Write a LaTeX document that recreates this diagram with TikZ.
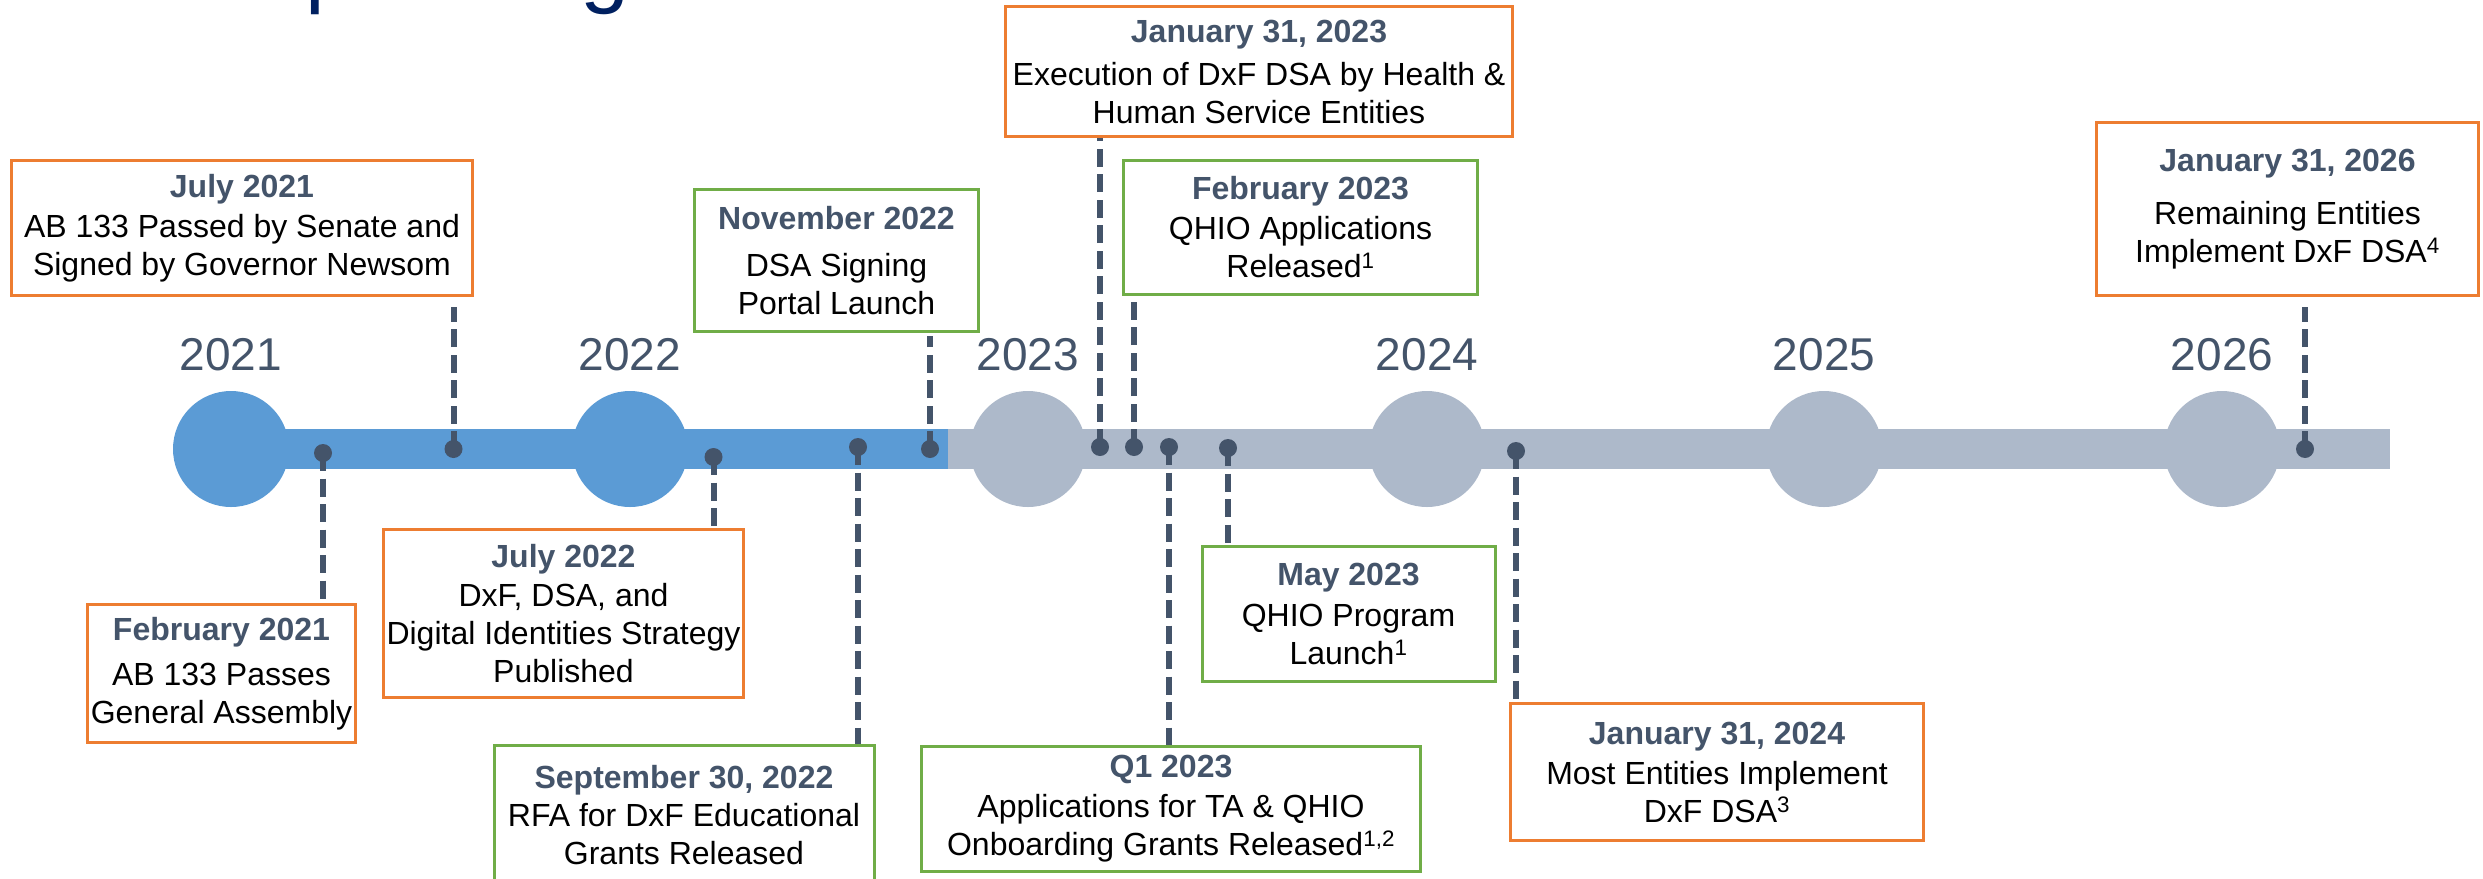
\documentclass[tikz,border=0pt]{standalone}
\usepackage{fontspec}
\setmainfont{Liberation Sans}
\definecolor{blueC}{HTML}{5B9BD5}
\definecolor{grayC}{HTML}{ADB9CA}
\definecolor{slate}{HTML}{44546A}
\definecolor{orangeC}{HTML}{ED7D31}
\definecolor{greenC}{HTML}{70AD47}
\definecolor{navy}{HTML}{002060}
\newcommand\evdate[1]{\textbf{\textcolor{slate}{#1}}}
\begin{document}
\begin{tikzpicture}[x=1pt,y=-1pt,
 evbox/.style={draw, line width=3pt, fill=white, inner sep=0pt, align=center, font=\fontsize{32}{38}\selectfont, text=black},
 obox/.style={evbox, draw=orangeC},
 gbox/.style={evbox, draw=greenC},
 evdot/.style={circle, fill=slate, inner sep=0pt, minimum size=18pt},
 conn/.style={draw=slate, line width=6pt, dash pattern=on 18pt off 7.5pt},
 yearcirc/.style={circle, inner sep=0pt, minimum size=116pt},
 yearlbl/.style={anchor=base, text=slate, font=\fontsize{46}{50}\selectfont, inner sep=0pt},
 titlech/.style={anchor=base, text=navy, font=\fontsize{88}{90}\selectfont, inner sep=0pt}
]
\useasboundingbox (0,0) rectangle (2483,878);
\clip (0,0) rectangle (2483,878);

% title fragments
\node[titlech, anchor=base west] (tp) at (305,-4) {p};
\node[titlech] (tg) at (605,-4) {g};

% bars
\fill[grayC] (948,429) rectangle (2390,469);
\fill[blueC] (231,429) rectangle (948,469);

% year circles
\node[yearcirc, fill=blueC] (c2021) at (231,449) {};
\node[yearcirc, fill=blueC] (c2022) at (630,449) {};
\node[yearcirc, fill=grayC] (c2023) at (1028,449) {};
\node[yearcirc, fill=grayC] (c2024) at (1427,449) {};
\node[yearcirc, fill=grayC] (c2025) at (1824,449) {};
\node[yearcirc, fill=grayC] (c2026) at (2222,449) {};

% year labels
\node[yearlbl] (l2021) at (231,370) {2021};
\node[yearlbl] (l2022) at (630,370) {2022};
\node[yearlbl] (l2023) at (1028,370) {2023};
\node[yearlbl] (l2024) at (1427,370) {2024};
\node[yearlbl] (l2025) at (1824,370) {2025};
\node[yearlbl] (l2026) at (2222,370) {2026};

% event boxes
\node[obox, minimum width=268pt, minimum height=138pt] (b1) at (221.5,673.5)
 {\evdate{February 2021}\\[7pt]AB 133 Passes\\General Assembly};
\node[obox, minimum width=461pt, minimum height=135pt] (b2) at (242,228)
 {\evdate{July 2021}\\[2pt]AB 133 Passed by Senate and\\Signed by Governor Newsom};
\node[obox, minimum width=360pt, minimum height=168pt] (b3) at (563.5,613.5)
 {\evdate{July 2022}\\[1pt]DxF, DSA, and\\Digital Identities Strategy\\Published};
\node[gbox, minimum width=380pt, minimum height=139pt] (b4) at (684,815)
 {\evdate{September 30, 2022}\\RFA for DxF Educational\\Grants Released};
\node[gbox, minimum width=284pt, minimum height=142pt] (b5) at (836.5,260.5)
 {\evdate{November 2022}\\[9pt]DSA Signing\\Portal Launch};
\node[obox, minimum width=507pt, minimum height=130pt] (b6) at (1259,71.5)
 {\evdate{January 31, 2023}\\[5pt]Execution of DxF DSA by Health \&\\Human Service Entities};
\node[gbox, minimum width=354pt, minimum height=134pt] (b7) at (1300.5,227.5)
 {\evdate{February 2023}\\[2pt]QHIO Applications\\Released\textsuperscript{1}};
\node[gbox, minimum width=499pt, minimum height=125pt] (b8) at (1171,809)
 {\evdate{Q1 2023}\\[2pt]Applications for TA \& QHIO\\Onboarding Grants Released\textsuperscript{1,2}};
\node[gbox, minimum width=293pt, minimum height=135pt] (b9) at (1348.5,614)
 {\evdate{May 2023}\\[3pt]QHIO Program\\Launch\textsuperscript{1}};
\node[obox, minimum width=413pt, minimum height=137pt] (b10) at (1717,772)
 {\evdate{January 31, 2024}\\[2pt]Most Entities Implement\\DxF DSA\textsuperscript{3}};
\node[obox, minimum width=382pt, minimum height=173pt] (b11) at (2287.5,209)
 {\evdate{January 31, 2026}\\[15pt]Remaining Entities\\Implement DxF DSA\textsuperscript{4}};

% dots
\node[evdot] (d1) at (323,453) {};
\node[evdot] (d2) at (453.5,449) {};
\node[evdot] (d3) at (713.5,457) {};
\node[evdot] (d4) at (858,447) {};
\node[evdot] (d5) at (930,449) {};
\node[evdot] (d6) at (1100,447) {};
\node[evdot] (d7) at (1134,447) {};
\node[evdot] (d8) at (1169,447) {};
\node[evdot] (d9) at (1228,448) {};
\node[evdot] (d10) at (1516,451) {};
\node[evdot] (d11) at (2305,449) {};

% connectors
\draw[conn] (d1.center) -- (d1.center |- b1.north);
\draw[conn, shorten >=10pt] (d2.center) -- (d2.center |- b2.south);
\draw[conn] (d3.center) -- (d3.center |- b3.north);
\draw[conn] (d4.center) -- (d4.center |- b4.north);
\draw[conn, shorten >=3pt] (d5.center) -- (d5.center |- b5.south);
\draw[conn] (d6.center) -- (d6.center |- b6.south);
\draw[conn] (d7.center) -- (d7.center |- b7.south);
\draw[conn] (d8.center) -- (d8.center |- b8.north);
\draw[conn] (d9.center) -- (d9.center |- b9.north);
\draw[conn] (d10.center) -- (d10.center |- b10.north);
\draw[conn, shorten >=10pt] (d11.center) -- (d11.center |- b11.south);
\end{tikzpicture}
\end{document}
